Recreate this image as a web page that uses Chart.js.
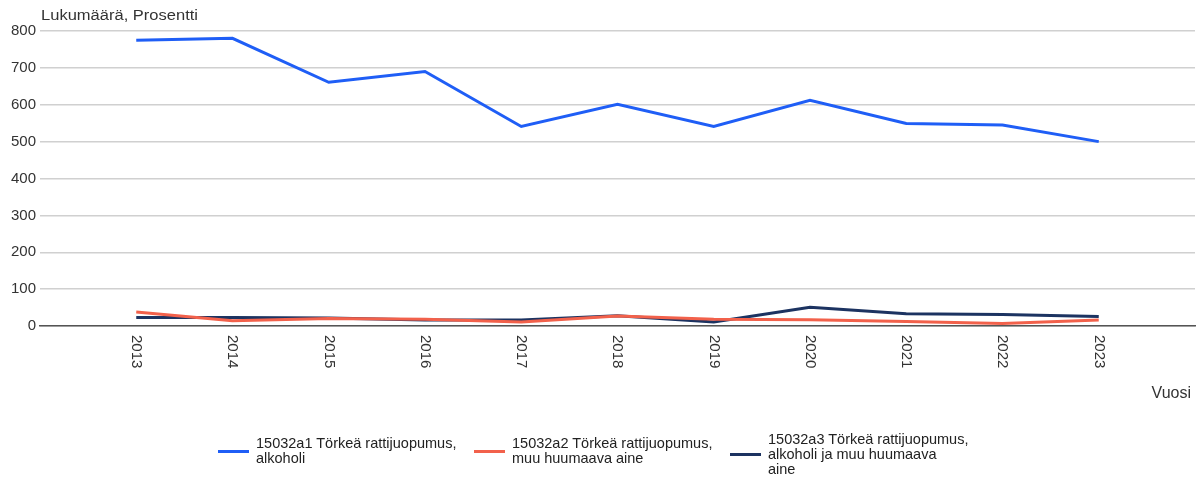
<!DOCTYPE html>
<html>
<head>
<meta charset="utf-8">
<script src="https://cdn.jsdelivr.net/npm/chart.js@4"></script>
<style>
  body { margin: 0; background: #fff; font-family: "Liberation Sans", Arial, sans-serif; }
  #wrap { position: relative; width: 1198px; height: 480px; }
  .leg { position: absolute; display: flex; align-items: center; font-size: 14.5px; color: #222; line-height: 15px; }
  .leg span.sw { display: inline-block; width: 31px; height: 3px; margin-right: 7px; }
</style>
</head>
<body>
<div id="wrap">
  <canvas id="chart" width="1198" height="480"></canvas>
  <div id="legend"></div>
</div>
<script>
const years = [2013, 2014, 2015, 2016, 2017, 2018, 2019, 2020, 2021, 2022, 2023];
const alkoholi = [775, 780, 661, 690, 541, 601, 541, 612, 549, 545, 500];
const muuAine = [38, 14, 20, 18, 11, 27, 18, 17, 12, 7, 16];
const molemmat = [23, 23, 22, 16, 16, 28, 11, 51, 33, 31, 26];
const yTicks = [0, 100, 200, 300, 400, 500, 600, 700, 800];

const seriesNames = [
  ['15032a1 Törkeä rattijuopumus,', 'alkoholi'],
  ['15032a2 Törkeä rattijuopumus,', 'muu huumaava aine'],
  ['15032a3 Törkeä rattijuopumus,', 'alkoholi ja muu huumaava', 'aine']
];
const colors = ['#1f5ef6', '#f2614b', '#1c3361'];

function pts(arr) {
  return years.map((y, i) => ({ x: y, y: arr[i] }));
}

const FONT = '"Liberation Sans", Arial, sans-serif';

// draw text stretched horizontally a little, like the original picture
function wideText(ctx, txt, x, y, sx) {
  ctx.save();
  ctx.translate(x, y);
  ctx.scale(sx, 1);
  ctx.fillText(txt, 0, 0);
  ctx.restore();
}

const extras = {
  id: 'extras',
  afterDraw(chart) {
    const ctx = chart.ctx;
    const xs = chart.scales.x;
    ctx.save();
    ctx.fillStyle = '#333';
    ctx.font = '15px ' + FONT;
    // rotated year labels (clockwise)
    years.forEach(y => {
      const px = xs.getPixelForValue(y);
      ctx.save();
      ctx.translate(px, 335);
      ctx.rotate(Math.PI / 2);
      ctx.textAlign = 'left';
      ctx.textBaseline = 'middle';
      ctx.fillText(String(y), 0, 0);
      ctx.restore();
    });
    ctx.textBaseline = 'alphabetic';
    ctx.textAlign = 'left';
    ctx.font = '14px ' + FONT;
    wideText(ctx, 'Lukumäärä, Prosentti', 41, 20, 1.18);
    ctx.font = '16px ' + FONT;
    ctx.textAlign = 'right';
    ctx.fillText('Vuosi', 1191, 398);
    ctx.restore();
  }
};

new Chart(document.getElementById('chart'), {
  type: 'line',
  data: {
    datasets: [
      { label: seriesNames[0].join(' '), data: pts(alkoholi), borderColor: colors[0], backgroundColor: colors[0] },
      { label: seriesNames[1].join(' '), data: pts(muuAine), borderColor: colors[1], backgroundColor: colors[1] },
      { label: seriesNames[2].join(' '), data: pts(molemmat), borderColor: colors[2], backgroundColor: colors[2] }
    ]
  },
  options: {
    responsive: false,
    animation: false,
    layout: { padding: { top: 31, right: 3, bottom: 0, left: 0 } },
    elements: { line: { borderWidth: 3, tension: 0 }, point: { radius: 0 } },
    plugins: { legend: { display: false }, tooltip: { enabled: false } },
    scales: {
      x: {
        type: 'linear',
        min: 2012,
        max: 2024,
        ticks: { display: false, stepSize: 1 },
        grid: { display: false },
        border: { display: true, color: '#555', width: 1.5 },
        afterFit(s) { s.height = 154; }
      },
      y: {
        min: 0,
        max: 800,
        afterBuildTicks(s) { s.ticks = yTicks.map(v => ({ value: v })); },
        ticks: { color: '#333', font: { family: FONT, size: 15 }, padding: 4 },
        grid: { color: '#d0d0d0', lineWidth: 1.5, drawTicks: false },
        border: { display: false },
        afterFit(s) { s.width = 40; }
      }
    }
  },
  plugins: [extras]
});

// legend
const legendPos = [[218, 436], [474, 436], [730, 432]];
const legend = document.getElementById('legend');
seriesNames.forEach((lines, i) => {
  const d = document.createElement('div');
  d.className = 'leg';
  d.style.left = legendPos[i][0] + 'px';
  d.style.top = legendPos[i][1] + 'px';
  const sw = document.createElement('span');
  sw.className = 'sw';
  sw.style.background = colors[i];
  const t = document.createElement('div');
  t.innerHTML = lines.join('<br>');
  d.appendChild(sw);
  d.appendChild(t);
  legend.appendChild(d);
});
</script>
</body>
</html>
